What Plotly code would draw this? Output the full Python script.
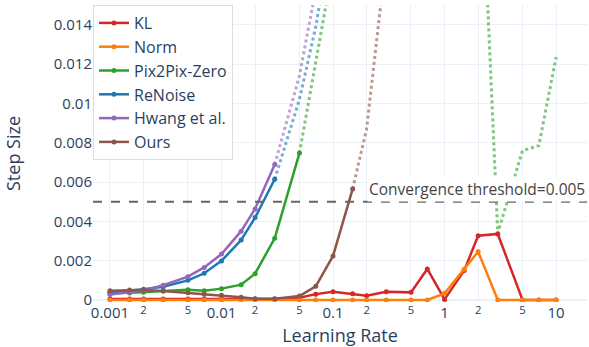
import plotly.graph_objects as go

lr = [0.001, 0.0015, 0.002, 0.003, 0.005, 0.007, 0.01, 0.015, 0.02, 0.03,
      0.05, 0.07, 0.1, 0.15, 0.2, 0.3, 0.5, 0.7, 1, 1.5, 2, 3, 5, 7, 10]

kl = [0.00005, 0.00005, 0.00005, 0.00005, 0.00005, 0.00005, 0.00005, 0.00005, 0.00005, 0.00005,
      0.00012, 0.0003, 0.00042, 0.00032, 0.00022, 0.00042, 0.00039, 0.00158, 0.00003, 0.0015,
      0.00327, 0.00336, 0, 0, 0]
norm = [0, 0, 0, 0, 0, 0, 0, 0, 0, 0,
        0, 0, 0, 0, 0, 0, 0, 0, 0.00034, 0.00156,
        0.00246, 0, 0, 0, 0]
pix_solid = [0.00034, 0.00036, 0.0004, 0.00046, 0.00052, 0.00047, 0.00058, 0.00078, 0.00134, 0.00314,
             0.00747]
pix_dotted = [None, None, None, None, None, None, None, None, None, None,
              0.00747, 0.0121, 0.017, None, None, None, None, None, None, None,
              0.026, 0.0034, 0.0076, 0.00785, 0.01235]
renoise_solid = [0.0004, 0.00047, 0.00055, 0.00068, 0.001, 0.00136, 0.00199, 0.00305, 0.00419, 0.00614]
renoise_dotted = [None, None, None, None, None, None, None, None, None, 0.00614,
                  0.0102, 0.0139, 0.019]
hwang_solid = [0.00028, 0.0004, 0.00049, 0.00075, 0.00119, 0.00166, 0.00234, 0.0035, 0.00463, 0.00689]
hwang_dotted = [None, None, None, None, None, None, None, None, None, 0.00689,
                0.0114, 0.0158]
ours_solid = [0.00047, 0.00051, 0.00051, 0.00046, 0.00037, 0.0003, 0.00024, 0.00014, 0.00007, 0.00006,
              0.0002, 0.0007, 0.00224, 0.00565]
ours_dotted = [None, None, None, None, None, None, None, None, None, None,
               None, None, None, 0.00565, 0.0087, 0.0175]

threshold = 0.005

series = [
    ("KL", kl, None, "#d62728"),
    ("Norm", norm, None, "#ff7f0e"),
    ("Pix2Pix-Zero", pix_solid, pix_dotted, "#2ca02c"),
    ("ReNoise", renoise_solid, renoise_dotted, "#1f77b4"),
    ("Hwang et al.", hwang_solid, hwang_dotted, "#9467bd"),
    ("Ours", ours_solid, ours_dotted, "#8c564b"),
]

fig = go.Figure()
for name, solid, dotted, color in series:
    if dotted is not None:
        fig.add_trace(go.Scatter(
            x=lr[:len(dotted)], y=dotted, mode="lines", showlegend=False,
            line=dict(color=color, width=3, dash="dot"), opacity=0.6,
            hoverinfo="skip"))
for name, solid, dotted, color in series:
    fig.add_trace(go.Scatter(
        x=lr[:len(solid)], y=solid, mode="lines+markers", name=name,
        line=dict(color=color, width=2.5), marker=dict(size=5, color=color)))

fig.add_hline(y=threshold, line=dict(color="#666666", width=2, dash="dash"),
              annotation_text="Convergence threshold=0.005",
              annotation_position="top right",
              annotation_font=dict(size=15.5, color="#444444"),
              annotation_bgcolor="white")

fig.update_layout(
    template="plotly_white",
    width=589, height=347,
    margin=dict(l=93, r=2, t=5, b=45, autoexpand=False),
    font=dict(size=15),
    legend=dict(x=0, y=1, xanchor="left", yanchor="top",
                bgcolor="white", bordercolor="#dddddd", borderwidth=1,
                font=dict(size=16)),
    xaxis=dict(type="log", range=[-3.152, 1.277], dtick="D2", automargin=False,
               title=dict(text="Learning Rate", font=dict(size=18), standoff=24)),
    yaxis=dict(range=[-0.0001, 0.015], dtick=0.002, automargin=False,
               title=dict(text="Step Size", font=dict(size=18), standoff=28)),
)

fig.write_html("out.html", config={"displayModeBar": False},
               post_script="document.body.style.margin='0';")
